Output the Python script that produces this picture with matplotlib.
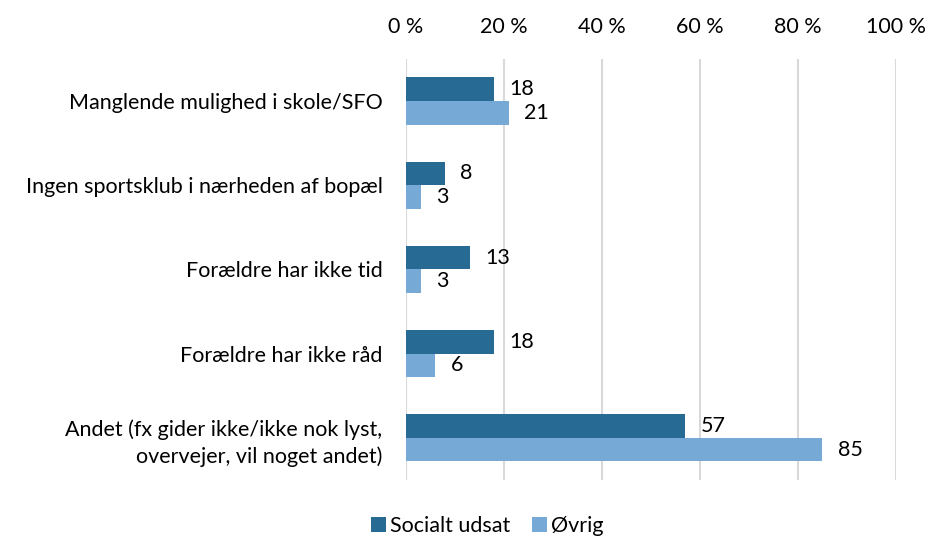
import matplotlib.pyplot as plt
import numpy as np
from matplotlib.ticker import FuncFormatter

plt.rcParams['font.family'] = ['Lato', 'DejaVu Sans']

categories = [
    "Manglende mulighed i skole/SFO",
    "Ingen sportsklub i nærheden af bopæl",
    "Forældre har ikke tid",
    "Forældre har ikke råd",
    "Andet (fx gider ikke/ikke nok lyst,\novervejer, vil noget andet)",
]
socialt_udsat = [18, 8, 13, 18, 57]
oevrig = [21, 3, 3, 6, 85]
series_names = ["Socialt udsat", "Øvrig"]

DARK = "#276A93"
LIGHT = "#76A9D6"
FS = 15.5

fig = plt.figure(figsize=(9.28, 5.42), dpi=100)
ax = fig.add_axes([0.4375, 0.1144, 0.528, 0.777])

y = np.arange(len(categories))
h = 0.28

bars1 = ax.barh(y - h / 2, socialt_udsat, height=h, color=DARK, label=series_names[0], zorder=3)
bars2 = ax.barh(y + h / 2, oevrig, height=h, color=LIGHT, label=series_names[1], zorder=3)

for bars, vals in ((bars1, socialt_udsat), (bars2, oevrig)):
    for b, v in zip(bars, vals):
        ax.annotate(str(v), (b.get_width(), b.get_y() + b.get_height() / 2),
                    xytext=(11, 0), textcoords='offset points',
                    va='center', ha='left', fontsize=FS, color='#000000')

ax.set_xlim(0, 100)
ax.set_ylim(len(categories) - 0.5, -0.5)
ax.set_xticks(np.arange(0, 101, 20))
ax.xaxis.set_major_formatter(FuncFormatter(lambda v, p: f"{int(v)} %"))
ax.xaxis.tick_top()
ax.tick_params(axis='x', length=0, pad=16, labelsize=FS)
ax.tick_params(axis='y', length=0, pad=17, labelsize=FS)
ax.set_yticks(y)
ax.set_yticklabels(categories, ha='right', linespacing=1.4)
ax.grid(axis='x', color='#D9D9D9', linewidth=1.5, zorder=0)
for s in ax.spines.values():
    s.set_visible(False)

fig.legend(handles=[bars1, bars2], labels=series_names, loc='lower center',
           bbox_to_anchor=(0.525, -0.025), ncol=2, frameon=False, fontsize=FS,
           handlelength=0.7, handleheight=0.7, handletextpad=0.2, columnspacing=1.0)

fig.savefig("out.png", dpi=100)
